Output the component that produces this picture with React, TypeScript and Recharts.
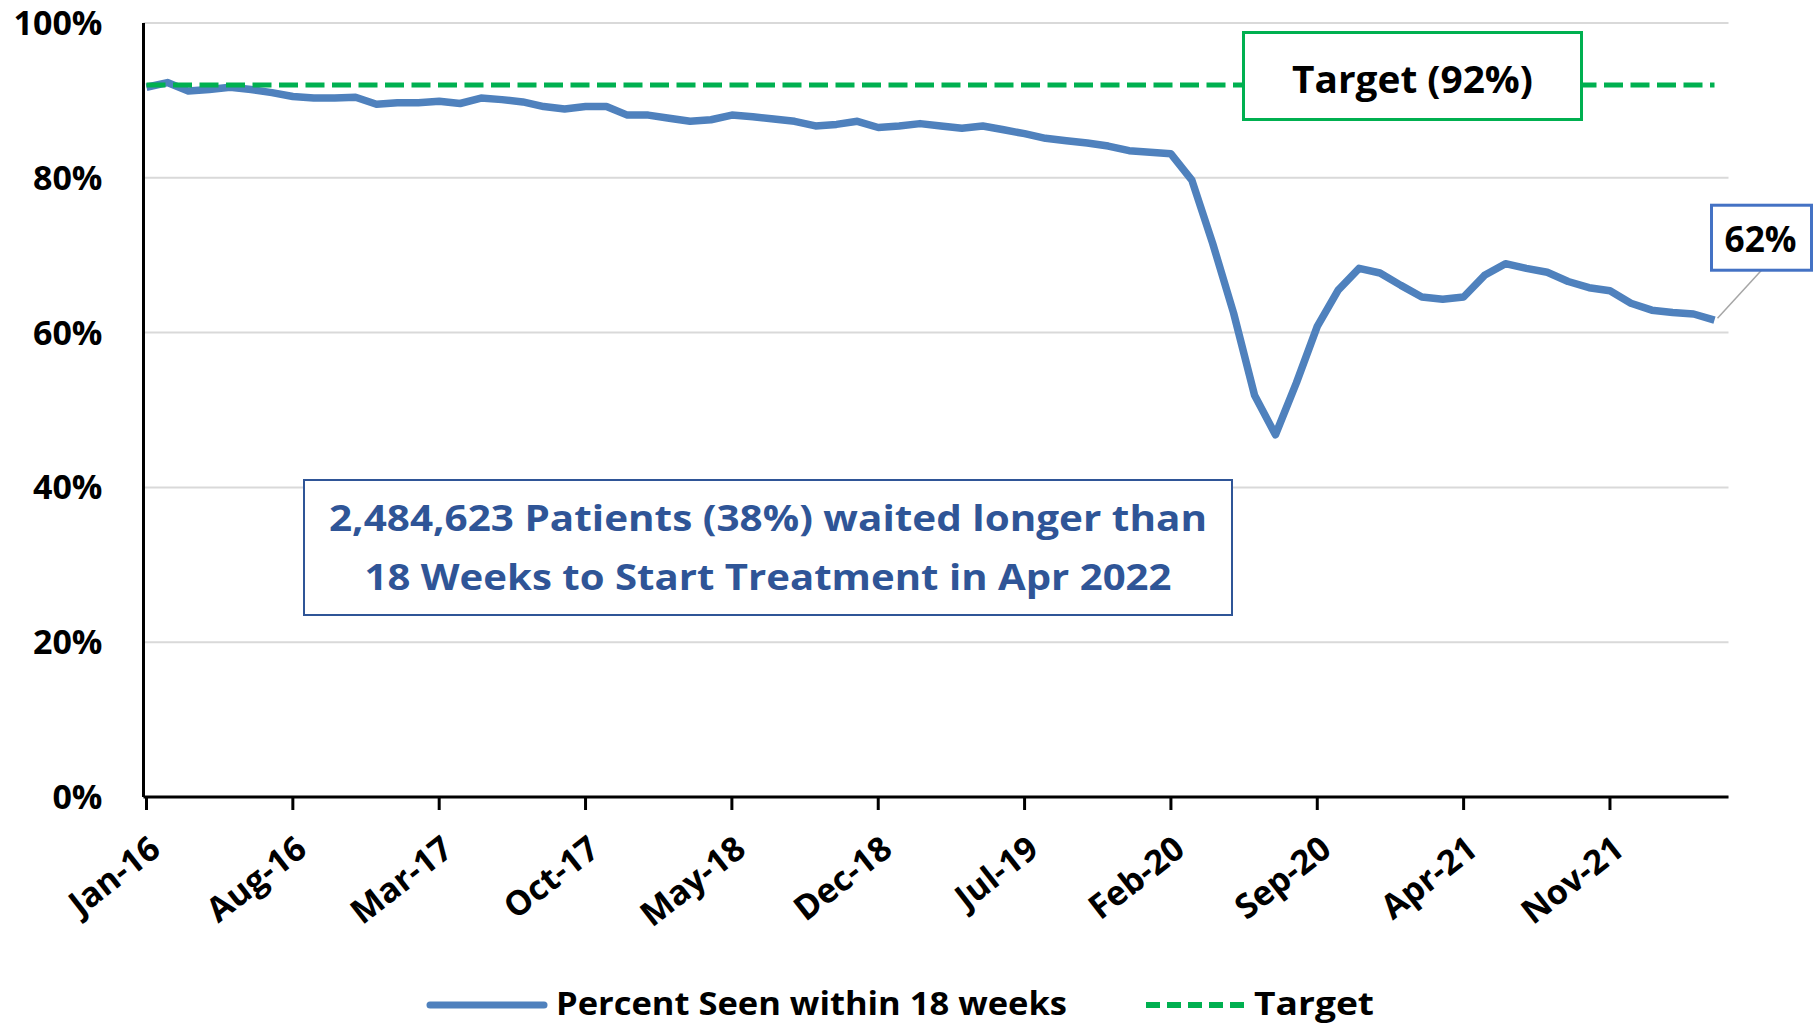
import React from "react";
import { LineChart, Line, XAxis, YAxis, CartesianGrid, LabelList } from "recharts";

const FONT = "'Open Sans', 'Noto Sans', sans-serif";
const BLUE = "#4F81BD";
const GREEN = "#00B050";
const NAVY = "#2F5597";

const MONTHS = ["Jan", "Feb", "Mar", "Apr", "May", "Jun", "Jul", "Aug", "Sep", "Oct", "Nov", "Dec"];
const YEARS = ["16", "17", "18", "19", "20", "21", "22"];
// Jan-16 .. Apr-22
const PERIODS = YEARS.flatMap((y) => MONTHS.map((m) => `${m}-${y}`)).slice(0, 76);

// percent of patients seen within 18 weeks
const PCT_SEEN = [
  91.7, 92.3, 91.2, 91.4, 91.7, 91.4, 91.0, 90.5, 90.3, 90.3, 90.4, 89.5,
  89.7, 89.7, 89.9, 89.6, 90.3, 90.1, 89.8, 89.2, 88.9, 89.2, 89.2, 88.1,
  88.1, 87.7, 87.3, 87.5, 88.1, 87.9, 87.6, 87.3, 86.7, 86.9, 87.3, 86.5,
  86.7, 87.0, 86.7, 86.4, 86.7, 86.2, 85.7, 85.1, 84.8, 84.5, 84.1, 83.5,
  83.3, 83.1, 79.7, 71.5, 62.5, 51.9, 46.8, 53.5, 60.8, 65.5, 68.3, 67.7,
  66.1, 64.6, 64.3, 64.6, 67.4, 68.9, 68.3, 67.8, 66.6, 65.8, 65.4, 63.8,
  62.9, 62.6, 62.4, 61.6,
];
const TARGET_PCT = 92;

const X_TICKS = ["Jan-16", "Aug-16", "Mar-17", "Oct-17", "May-18", "Dec-18", "Jul-19", "Feb-20", "Sep-20", "Apr-21", "Nov-21"];
const Y_TICKS = [0, 20, 40, 60, 80, 100];
const SERIES_NAMES = ["Percent Seen within 18 weeks", "Target"];
const TARGET_NOTE = "Target (92%)";
const NOTE_LINES = ["2,484,623 Patients (38%) waited longer than", "18 Weeks to Start Treatment in Apr 2022"];

const rows = PERIODS.map((month, i) => ({ month, pct: PCT_SEEN[i], target: TARGET_PCT }));

function XTick({ x, y, payload }: any) {
  const ax = x + 16;
  const ay = y + 43;
  return (
    <text x={ax} y={ay} transform={`rotate(-38 ${ax} ${ay})`} textAnchor="end"
      fontFamily={FONT} fontWeight={700} fontSize={34} fill="#000">
      {payload.value}
    </text>
  );
}

function LastLabel({ x, y, value, index }: any) {
  if (index !== PCT_SEEN.length - 1) return null;
  return (
    <g>
      <line x1={x + 47} y1={y - 50} x2={x + 3} y2={y - 2} stroke="#a6a6a6" strokeWidth={1.5} />
      <rect x={x - 3} y={y - 115} width={100} height={65} fill="#fff" stroke="#4472C4" strokeWidth={3} />
      <text x={x + 46} y={y - 68} textAnchor="middle" fontFamily={FONT} fontWeight={700}
        fontSize={35} fill="#000" textLength={72} lengthAdjust="spacingAndGlyphs">
        {Math.round(value)}%
      </text>
    </g>
  );
}

export default function App() {
  return (
    <div style={{ position: "absolute", left: 0, top: 0, width: 1814, height: 1025, background: "#fff" }}>
      <LineChart width={1814} height={1025} data={rows}
        margin={{ top: 23, right: 85.5, bottom: 168, left: 43.5 }}>
        <CartesianGrid vertical={false} stroke="#d9d9d9" strokeWidth={2} />
        <XAxis dataKey="month" ticks={X_TICKS} interval={0} height={60}
          padding={{ left: 3, right: 14 }}
          axisLine={{ stroke: "#000", strokeWidth: 3 }}
          tickLine={{ stroke: "#000", strokeWidth: 3 }} tickSize={13} tickMargin={0}
          tick={<XTick />} />
        <YAxis domain={[0, 100]} ticks={Y_TICKS} width={100} interval={0}
          tickFormatter={(v) => `${v}%`}
          axisLine={{ stroke: "#000", strokeWidth: 3 }} tickLine={false} tickSize={0} tickMargin={41}
          tick={{ fontFamily: FONT, fontWeight: 700, fontSize: 34, fill: "#000" }} />
        <Line dataKey="pct" name={SERIES_NAMES[0]} stroke={BLUE} strokeWidth={7.5} dot={false}
          strokeLinejoin="round" isAnimationActive={false}>
          <LabelList dataKey="pct" content={<LastLabel />} />
        </Line>
        <Line dataKey="target" name={SERIES_NAMES[1]} stroke={GREEN} strokeWidth={5} dot={false}
          strokeDasharray="19 7.5" isAnimationActive={false} />
      </LineChart>

      <svg width={1814} height={1025} style={{ position: "absolute", left: 0, top: 0, pointerEvents: "none" }}>
        {/* target callout */}
        <rect x={1243.5} y={32.5} width={338} height={87} fill="#fff" stroke={GREEN} strokeWidth={3} />
        <text x={1412.5} y={93} textAnchor="middle" fontFamily={FONT} fontWeight={700} fontSize={38}
          fill="#000" textLength={241} lengthAdjust="spacingAndGlyphs">{TARGET_NOTE}</text>

        {/* patients note */}
        <rect x={304} y={480} width={928} height={135} fill="#fff" stroke={NAVY} strokeWidth={2} />
        <text x={768} y={531} textAnchor="middle" fontFamily={FONT} fontWeight={700} fontSize={36}
          fill={NAVY} textLength={878} lengthAdjust="spacingAndGlyphs">{NOTE_LINES[0]}</text>
        <text x={768} y={590} textAnchor="middle" fontFamily={FONT} fontWeight={700} fontSize={36}
          fill={NAVY} textLength={807} lengthAdjust="spacingAndGlyphs">{NOTE_LINES[1]}</text>

        {/* legend */}
        <line x1={430} y1={1005} x2={544} y2={1005} stroke={BLUE} strokeWidth={7} strokeLinecap="round" />
        <text x={556} y={1015} fontFamily={FONT} fontWeight={700} fontSize={32} fill="#000"
          textLength={511} lengthAdjust="spacingAndGlyphs">{SERIES_NAMES[0]}</text>
        <line x1={1146} y1={1005} x2={1247} y2={1005} stroke={GREEN} strokeWidth={6} strokeDasharray="14 7" />
        <text x={1254} y={1015} fontFamily={FONT} fontWeight={700} fontSize={32} fill="#000"
          textLength={120} lengthAdjust="spacingAndGlyphs">{SERIES_NAMES[1]}</text>
      </svg>
    </div>
  );
}
